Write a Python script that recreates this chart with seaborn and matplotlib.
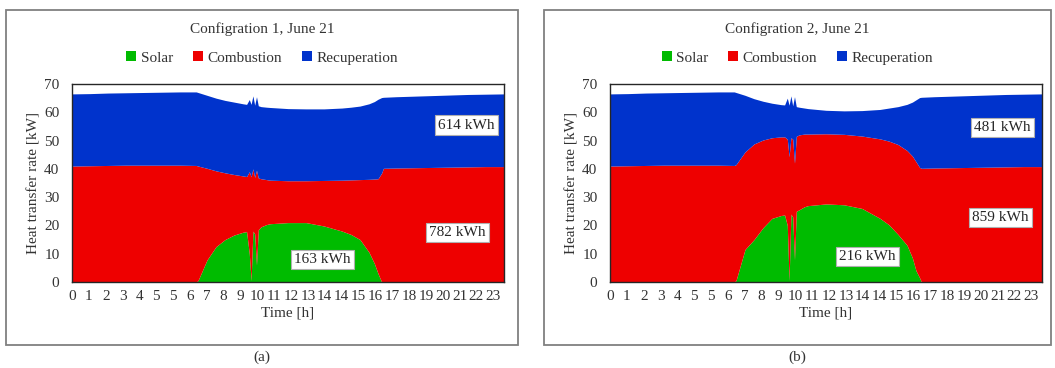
import numpy as np
import matplotlib
matplotlib.use("Agg")
import matplotlib.pyplot as plt
from matplotlib.patches import Patch, Rectangle
import seaborn as sns

sns.set_theme(style="white")
plt.rcParams['font.family'] = ['Liberation Serif', 'DejaVu Serif']

# ---------------- data ----------------
# time [h]
time = [0, 1, 2, 3, 4, 5, 6, 6.9, 7.0, 7.5, 8.0, 8.5, 9.0, 9.5, 9.7, 9.85, 9.95,
        10.05, 10.15, 10.25, 10.35, 10.5, 10.8, 11, 12, 13, 14, 15, 15.5, 16, 16.5,
        16.8, 17.0, 17.2, 17.3, 18, 19, 20, 21, 22, 23, 24]

# Configuration 1 : stacked levels [kW]
c1_solar = [0, 0, 0, 0, 0, 0, 0, 0, 0.5, 7.8, 12.5, 15.0, 16.6, 17.6, 17.8, 10.0, 0.5,
            18.0, 17.0, 6.0, 18.5, 19.5, 20.3, 20.6, 21.0, 21.0, 19.8, 18.0, 16.8, 15.0, 10.5,
            6.5, 3.0, 0, 0, 0, 0, 0, 0, 0, 0, 0]
c1_solar_comb = [41.0, 41.1, 41.2, 41.3, 41.3, 41.3, 41.3, 41.2, 41.0, 40.2, 39.3, 38.6, 38.0,
                 37.5, 37.3, 39.0, 37.2, 40.0, 37.0, 39.5, 36.8, 36.5, 36.2, 36.0, 35.8, 35.8,
                 35.9, 36.0, 36.1, 36.2, 36.3, 36.4, 36.5, 38.5, 40.2, 40.3, 40.4, 40.5, 40.6,
                 40.7, 40.8, 40.8]
c1_total = [66.5, 66.6, 66.8, 66.9, 67.0, 67.1, 67.2, 67.2, 67.0, 66.0, 65.0, 64.2, 63.6, 63.0,
            62.8, 64.5, 62.8, 65.8, 62.5, 65.5, 62.3, 62.0, 61.8, 61.7, 61.3, 61.2, 61.2, 61.5,
            61.8, 62.2, 63.0, 63.8, 64.6, 65.2, 65.3, 65.5, 65.7, 65.9, 66.1, 66.3, 66.4, 66.5]

# Configuration 2 : stacked levels [kW]
c2_solar = [0, 0, 0, 0, 0, 0, 0, 0, 0.5, 11.5, 15.0, 19.2, 22.5, 23.5, 23.7, 20.0, 0.5,
            24.0, 23.0, 7.8, 25.0, 25.5, 26.6, 27.0, 27.6, 27.3, 26.0, 22.5, 20.2, 16.8, 13.0,
            8.5, 4.0, 1.5, 0, 0, 0, 0, 0, 0, 0, 0]
c2_solar_comb = [41.0, 41.1, 41.2, 41.3, 41.3, 41.3, 41.3, 41.2, 41.5, 46.0, 48.8, 50.2, 51.0,
                 51.3, 51.3, 50.5, 44.3, 51.0, 50.5, 42.0, 51.5, 52.0, 52.3, 52.3, 52.4, 52.2,
                 51.6, 50.6, 49.8, 48.6, 46.5, 44.5, 42.5, 40.5, 40.2, 40.3, 40.4, 40.5, 40.6,
                 40.7, 40.8, 40.8]
c2_total = [66.5, 66.6, 66.8, 66.9, 67.0, 67.1, 67.2, 67.2, 67.0, 66.0, 64.8, 63.9, 63.2, 62.7,
            62.6, 65.0, 62.5, 65.8, 62.3, 65.5, 62.0, 61.8, 61.5, 61.3, 60.7, 60.5, 60.6, 61.0,
            61.5, 62.0, 62.8, 63.6, 64.4, 65.2, 65.3, 65.5, 65.7, 65.9, 66.1, 66.3, 66.4, 66.5]

series_names = ["Solar", "Combustion", "Recuperation"]
series_colors = ["#00BB00", "#EE0000", "#0033CC"]

x_tick_labels = ["0", "1", "2", "3", "4", "5", "5", "6", "7", "8", "9", "10", "11", "12",
                 "13", "14", "14", "15", "16", "17", "18", "19", "20", "21", "22", "23"]

titles = ["Configration 1, June 21", "Configration 2, June 21"]
panel_tags = ["(a)", "(b)"]
energy_labels = [["163 kWh", "782 kWh", "614 kWh"], ["216 kWh", "859 kWh", "481 kWh"]]
energy_pos = [[(13.9, 8.1), (21.4, 17.4), (21.9, 55.5)],
              [(14.3, 9.0), (21.7, 22.9), (21.8, 54.7)]]

# ---------------- figure ----------------
W, H = 1055, 368
fig = plt.figure(figsize=(W / 100, H / 100), dpi=100)

def fx(px):
    return px / W

def fy(py):
    return 1 - py / H

configs = [(c1_solar, c1_solar_comb, c1_total), (c2_solar, c2_solar_comb, c2_total)]
panels = [(6, 518, 72, 504), (544, 1051, 610, 1042)]
tc = "#333333"
FS = 11

for k, ((sol, sc, tot), (pl, pr, al, ar)) in enumerate(zip(configs, panels)):
    # panel border
    fig.patches.append(Rectangle((fx(pl), fy(345)), fx(pr - pl), (345 - 10) / H,
                                 transform=fig.transFigure, fill=False,
                                 edgecolor="#808080", linewidth=1.3))
    ax = fig.add_axes([fx(al), fy(282), fx(ar - al), (282 - 84) / H])
    t = np.array(time)
    ax.fill_between(t, 0, sol, color=series_colors[0], linewidth=0)
    ax.fill_between(t, sol, sc, color=series_colors[1], linewidth=0)
    ax.fill_between(t, sc, tot, color=series_colors[2], linewidth=0)
    ax.set_xlim(0, 24)
    ax.set_ylim(0, 70)
    ax.set_yticks(range(0, 71, 10))
    ax.set_xticks(np.linspace(0, 23.4, len(x_tick_labels)))
    ax.set_xticklabels(x_tick_labels)
    ax.tick_params(axis="both", length=0, labelsize=FS, colors=tc, pad=6)
    ax.tick_params(axis="y", pad=9)
    for s in ax.spines.values():
        s.set_visible(True)
        s.set_color("#262626")
        s.set_linewidth(1.0)
    ax.set_xlabel("Time [h]", fontsize=FS, color=tc, labelpad=2)
    ax.set_ylabel("Heat transfer rate [kW]", fontsize=FS, color=tc, labelpad=3)
    for lab, (xx, yy) in zip(energy_labels[k], energy_pos[k]):
        ax.text(xx, yy, lab, ha="center", va="center", fontsize=FS, color="#262626",
                bbox=dict(boxstyle="square,pad=0.2", facecolor="white",
                          edgecolor="#b0b0b0", linewidth=0.8))
    cx = (pl + pr) / 2
    fig.text(fx(cx), fy(29), titles[k], ha="center", va="center", fontsize=FS, color=tc)
    handles = [Patch(facecolor=c, edgecolor="none", label=n)
               for n, c in zip(series_names, series_colors)]
    fig.legend(handles=handles, loc="center", bbox_to_anchor=(fx(cx), fy(58)), ncol=3,
               frameon=False, fontsize=FS, handlelength=0.65, handleheight=0.65,
               handletextpad=0.3, columnspacing=1.3, labelcolor=tc)
    fig.text(fx(cx), fy(357), panel_tags[k], ha="center", va="center", fontsize=FS,
             color=tc)

fig.savefig("out.png", dpi=100)
